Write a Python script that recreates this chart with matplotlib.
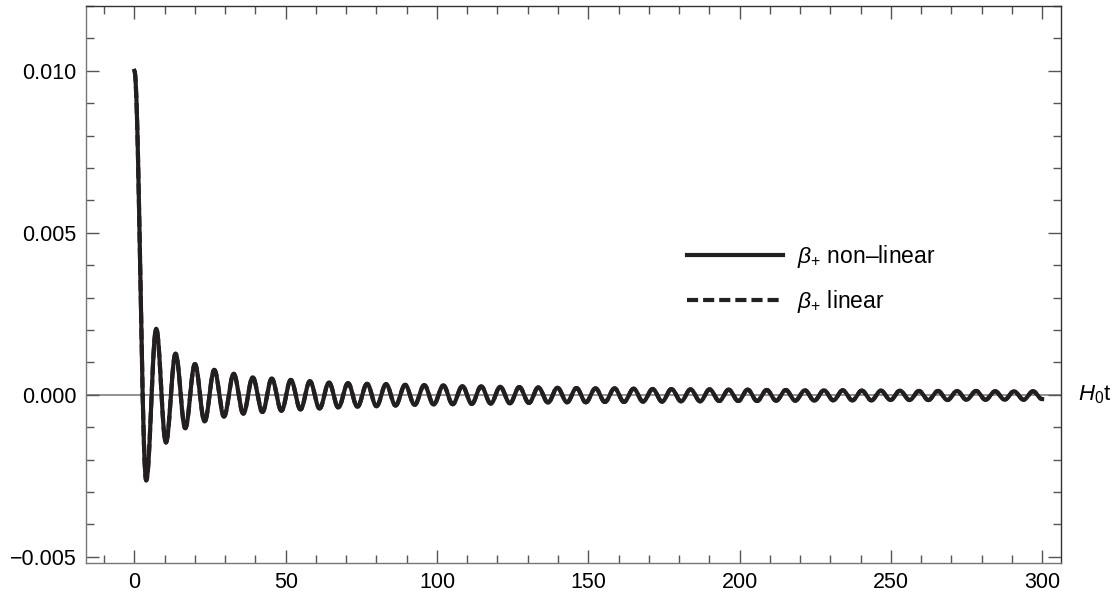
import numpy as np
import matplotlib
matplotlib.use("Agg")
import matplotlib.pyplot as plt
from matplotlib.ticker import MultipleLocator, FuncFormatter
import matplotlib.transforms as mtransforms

plt.rcParams['font.family'] = ['Liberation Sans', 'DejaVu Sans']
plt.rcParams['mathtext.fontset'] = 'custom'
plt.rcParams['mathtext.rm'] = 'Liberation Sans'
plt.rcParams['mathtext.it'] = 'Liberation Sans:italic'
plt.rcParams['lines.scale_dashes'] = False

# extrema of beta_+ (H0 t, value)
ext_t = [0.0, 3.9, 7.2, 10.4, 13.6, 16.8, 20.0, 23.2, 26.4, 29.6, 32.8,
         36.0, 39.1, 42.3, 45.4, 48.6, 51.7, 54.9, 58.0, 61.2, 64.3,
         67.4, 70.6, 73.7, 76.9, 80.0, 83.2, 86.3, 89.5, 92.6, 95.8,
         98.9, 102.1, 105.2, 108.4, 111.5, 114.6, 117.8, 120.9, 124.1, 127.2,
         130.4, 133.5, 136.7, 139.8, 143.0, 146.1, 149.2, 152.4, 155.5, 158.7,
         161.8, 165.0, 168.1, 171.3, 174.4, 177.5, 180.7, 183.8, 187.0, 190.1,
         193.3, 196.4, 199.6, 202.7, 205.8, 209.0, 212.1, 215.3, 218.4, 221.6,
         224.7, 227.9, 231.0, 234.1, 237.3, 240.4, 243.6, 246.7, 249.9, 253.0,
         256.2, 259.3, 262.4, 265.6, 268.7, 271.9, 275.0, 278.2, 281.3, 284.5,
         287.6, 290.7, 293.9, 297.0, 300.0]
ext_v = [0.0100, -0.00264, 0.00204, -0.00147, 0.00127, -0.00103, 0.00095, -0.00082, 0.00077, -0.00067, 0.00065,
         -0.00058, 0.00054, -0.00053, 0.00050, -0.00049, 0.00046, -0.00045, 0.00042, -0.00042, 0.00038,
         -0.00039, 0.00036, -0.00037, 0.00034, -0.00035, 0.00033, -0.00033, 0.00031, -0.00031, 0.00030,
         -0.00030, 0.00029, -0.00029, 0.00027, -0.00028, 0.00026, -0.00027, 0.00025, -0.00026, 0.00024,
         -0.00025, 0.00023, -0.00024, 0.00022, -0.00023, 0.00021, -0.00023, 0.00020, -0.00022, 0.00020,
         -0.00022, 0.00019, -0.00021, 0.00018, -0.00021, 0.00018, -0.00020, 0.00017, -0.00020, 0.00017,
         -0.00019, 0.00016, -0.00019, 0.00016, -0.00019, 0.00015, -0.00018, 0.00015, -0.00018, 0.00014,
         -0.00018, 0.00014, -0.00017, 0.00014, -0.00017, 0.00013, -0.00017, 0.00013, -0.00016, 0.00013,
         -0.00016, 0.00012, -0.00016, 0.00012, -0.00016, 0.00012, -0.00015, 0.00012, -0.00015, 0.00011,
         -0.00015, 0.00011, -0.00015, 0.00011, -0.00013]

x_ticks = [0, 50, 100, 150, 200, 250, 300]
y_ticks = [-0.005, 0.000, 0.005, 0.010]


def smooth_through(ts, vs, n=30):
    # half-cosine shape between consecutive extrema
    xs, ys = [], []
    for i in range(len(ts) - 1):
        s = np.linspace(0, 1, n, endpoint=False)
        xs.append(ts[i] + (ts[i + 1] - ts[i]) * s)
        ys.append(vs[i] + (vs[i + 1] - vs[i]) * (1 - np.cos(np.pi * s)) / 2)
    xs.append([ts[-1]])
    ys.append([vs[-1]])
    return np.concatenate(xs), np.concatenate(ys)


t, beta = smooth_through(ext_t, ext_v)

fig = plt.figure(figsize=(11.17, 5.94), dpi=100)
ax = fig.add_axes([0.077, 0.0527, 0.873, 0.9372])

ax.axhline(0, color='#808080', lw=1.2, zorder=1)
ax.plot(t, beta, color='#231f20', lw=3.0, ls=(0, (8, 3.6)), label=r'$\mathit{\beta}_{+}$ linear', zorder=2)
ax.plot(t, beta, color='#231f20', lw=3.0, label=r'$\mathit{\beta}_{+}$ non–linear', zorder=3)

ax.set_xlim(-16, 306.3)
ax.set_ylim(-0.00518, 0.0120)
ax.set_xticks(x_ticks)
ax.set_yticks(y_ticks)
ax.yaxis.set_major_formatter(FuncFormatter(lambda v, p: f'{v:.3f}'.replace('-', '\u2212')))
ax.xaxis.set_minor_locator(MultipleLocator(10))
ax.yaxis.set_minor_locator(MultipleLocator(0.001))
ax.tick_params(which='both', direction='in', top=True, right=True, color='#555555', width=1.0)
ax.tick_params(which='major', length=9.5, labelsize=15.5, pad=7)
ax.tick_params(which='minor', length=5.5)
for side in ['left', 'bottom']:
    ax.spines[side].set_color('#777777')
for side in ['top', 'right']:
    ax.spines[side].set_color('#333333')
for sp in ax.spines.values():
    sp.set_linewidth(1.0)

handles, labels = ax.get_legend_handles_labels()
leg = ax.legend(handles[::-1], labels[::-1], loc='center left',
                bbox_to_anchor=(0.615, 0.530), bbox_transform=fig.transFigure,
                frameon=False, fontsize=16.5, handlelength=4.2, handletextpad=0.6,
                labelspacing=0.8, borderpad=0, borderaxespad=0)

trans = mtransforms.blended_transform_factory(ax.transAxes, ax.transData)
ax.text(1.0175, 0.0, r'$\mathit{H}_0$t', transform=trans, ha='left', va='center',
        fontsize=16, clip_on=False)

fig.savefig('out.png', dpi=100)
